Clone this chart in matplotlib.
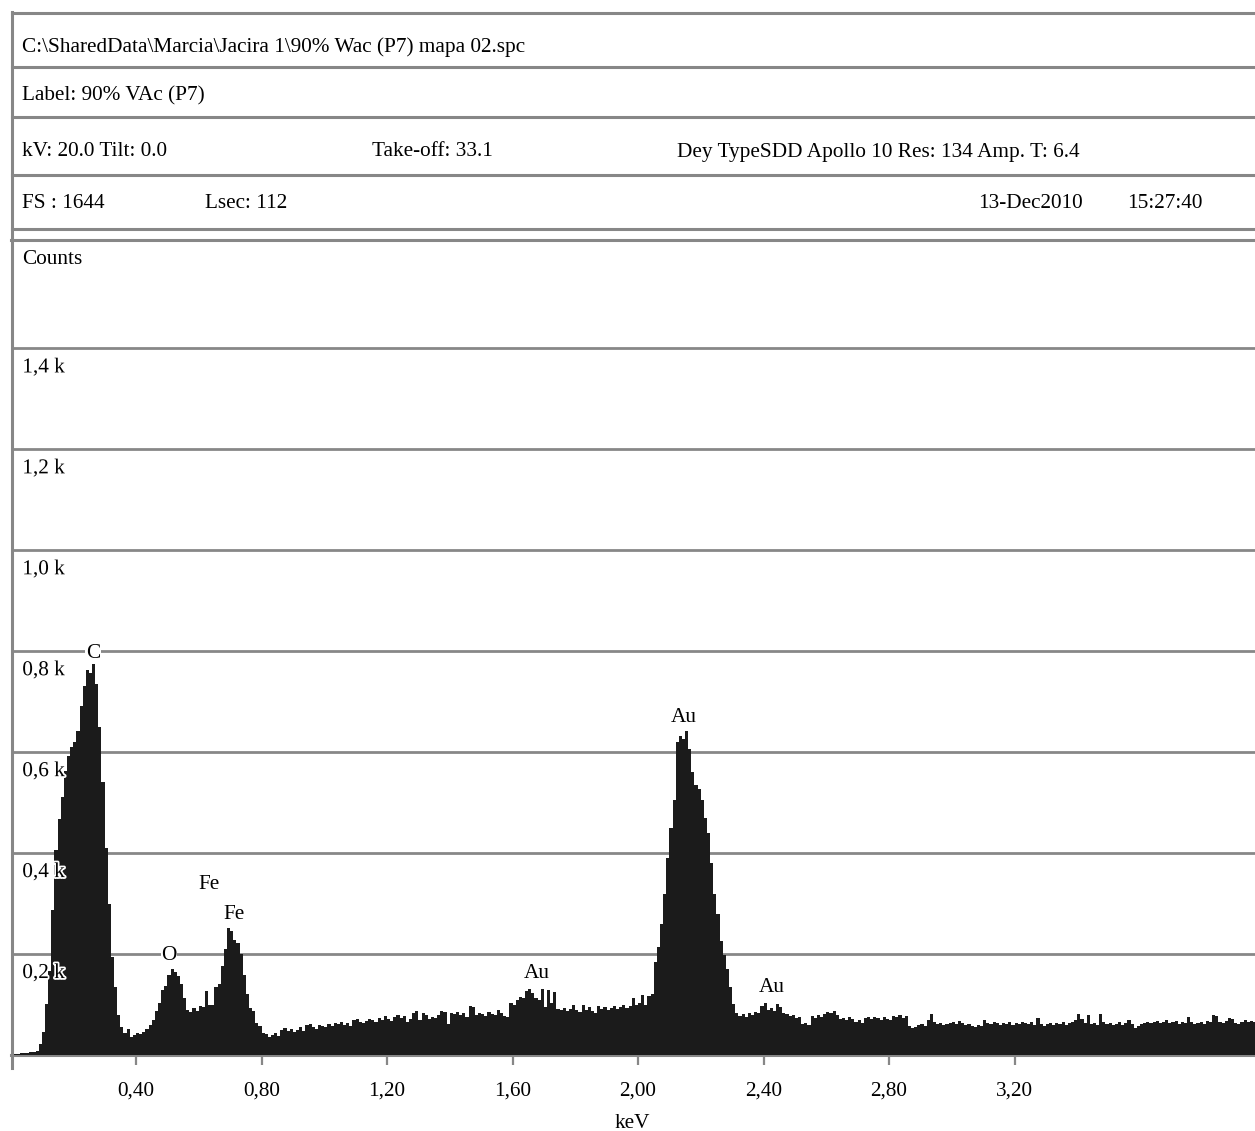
import matplotlib
matplotlib.use('Agg')
import matplotlib.pyplot as plt
import matplotlib.patheffects as pe
from matplotlib.lines import Line2D
import numpy as np

plt.rcParams['font.family'] = ['Liberation Serif', 'DejaVu Serif']

# EDS spectrum, 10 eV per channel starting at 0 keV
channel_kev = 0.01
counts = [
    487, 2, 2, 3, 4, 4, 5, 6, 8, 22,
    45, 101, 167, 287, 407, 467, 512, 562, 592, 610,
    620, 642, 692, 732, 762, 756, 775, 735, 650, 540,
    410, 300, 195, 135, 80, 56, 44, 52, 36, 40,
    44, 42, 46, 52, 60, 70, 88, 104, 128, 136,
    158, 170, 164, 156, 140, 112, 90, 86, 94, 88,
    98, 96, 126, 100, 100, 134, 140, 176, 210, 252,
    246, 228, 222, 200, 158, 120, 94, 88, 64, 58,
    44, 42, 36, 40, 44, 38, 50, 54, 48, 52,
    46, 50, 56, 48, 60, 62, 56, 52, 60, 58,
    56, 62, 58, 64, 62, 66, 60, 64, 58, 70,
    72, 66, 64, 68, 72, 70, 66, 74, 70, 78,
    72, 68, 76, 80, 74, 78, 66, 72, 84, 88,
    70, 84, 80, 72, 76, 74, 80, 88, 86, 62,
    84, 82, 86, 80, 84, 76, 98, 96, 80, 84,
    82, 78, 86, 82, 80, 90, 84, 78, 76, 104,
    100, 108, 114, 112, 126, 130, 122, 112, 108, 130,
    96, 128, 104, 124, 92, 90, 94, 88, 92, 100,
    90, 86, 100, 90, 96, 88, 84, 98, 92, 96,
    90, 94, 98, 92, 96, 100, 94, 98, 112, 100,
    104, 118, 100, 116, 120, 185, 214, 260, 320, 390,
    450, 505, 620, 632, 626, 642, 606, 560, 535, 528,
    506, 470, 440, 380, 320, 280, 226, 198, 170, 134,
    102, 84, 78, 82, 76, 84, 80, 86, 84, 98,
    104, 90, 94, 88, 102, 96, 84, 82, 78, 80,
    74, 76, 62, 64, 60, 78, 74, 80, 76, 82,
    86, 84, 88, 80, 72, 74, 70, 76, 72, 66,
    70, 64, 74, 76, 72, 76, 74, 70, 76, 72,
    70, 78, 76, 80, 74, 78, 58, 54, 56, 60,
    62, 58, 70, 82, 66, 62, 64, 60, 62, 64,
    66, 62, 68, 64, 60, 62, 58, 56, 60, 58,
    70, 64, 62, 66, 64, 60, 64, 62, 66, 60,
    64, 62, 66, 64, 62, 66, 60, 74, 62, 58,
    62, 64, 60, 64, 62, 66, 60, 64, 66, 70,
    82, 72, 64, 80, 62, 64, 60, 82, 66, 62,
    64, 60, 62, 66, 60, 64, 70, 62, 54, 58,
    62, 64, 66, 64, 66, 68, 64, 66, 70, 64,
    66, 68, 62, 66, 64, 76, 66, 62, 64, 66,
    62, 68, 66, 80, 78, 66, 64, 68, 74, 72,
    64, 62, 66, 70, 66, 68, 66,
]

grid_counts = [200, 400, 600, 800, 1000, 1200, 1400]
grid_labels = ['0,2 k', '0,4 k', '0,6 k', '0,8 k', '1,0 k', '1,2 k', '1,4 k']
kev_ticks = [0.4, 0.8, 1.2, 1.6, 2.0, 2.4, 2.8, 3.2]
kev_labels = ['0,40', '0,80', '1,20', '1,60', '2,00', '2,40', '2,80', '3,20']

# element markers: label, keV, counts
peak_names = ['C', 'O', 'Fe', 'Fe', 'Au', 'Au', 'Au']
peak_kev = [0.263, 0.505, 0.633, 0.712, 1.678, 2.147, 2.427]
peak_counts = [795, 197, 338, 279, 161, 668, 133]

header_lines = [
    [('C:\\SharedData\\Marcia\\Jacira 1\\90% Wac (P7) mapa 02.spc', 22)],
    [('Label: 90% VAc (P7)', 22)],
    [('kV: 20.0 Tilt: 0.0', 22), ('Take-off: 33.1', 372),
     ('Dey TypeSDD Apollo 10 Res: 134 Amp. T: 6.4', 677)],
    [('FS : 1644', 22), ('Lsec: 112', 205), ('13-Dec2010', 978), ('15:27:40', 1127)],
]
header_text_y = [47, 96, 152, 204]
header_rule_y = [13, 67, 117, 175, 229]

W, H = 1255, 1131
FS = 15.3
LINE = '#878787'


def fx(x):
    return x / W


def fy(y):
    return 1 - y / H


fig = plt.figure(figsize=(W / 100, H / 100), dpi=100)
ax = fig.add_axes([fx(10.5), fy(1055), 1 - fx(10.5), fy(240) - fy(1055)])

edges = np.arange(len(counts) + 1) * channel_kev
ax.stairs(counts, edges, fill=True, color='#1b1b1b', zorder=3)

for g in grid_counts:
    ax.axhline(g, color=LINE, lw=2.0, zorder=1)

ax.set_xlim(0, (W - 10.5) / 313.75)
ax.set_ylim(0, 1615)

for g, lab in zip(grid_counts, grid_labels):
    ax.annotate(lab, xy=(0, g), xycoords=('axes fraction', 'data'),
                xytext=(8.5, -14), textcoords='offset points',
                ha='left', va='center', fontsize=FS, zorder=6,
                path_effects=[pe.withStroke(linewidth=2.5, foreground='white')])

for name, e, c in zip(peak_names, peak_kev, peak_counts):
    ax.text(e, c, name, ha='center', va='center', fontsize=FS, zorder=6,
            bbox=dict(facecolor='white', edgecolor='none', pad=0.5))

ax.set_xticks(kev_ticks)
ax.set_xticklabels(kev_labels, fontsize=FS)
ax.set_yticks([])
ax.tick_params(axis='x', direction='out', length=7, width=1.6, color=LINE, pad=12)
ax.set_xlabel('keV', fontsize=FS, labelpad=10)
for side in ['left', 'top', 'right']:
    ax.spines[side].set_visible(False)
ax.spines['bottom'].set_color(LINE)
ax.spines['bottom'].set_linewidth(2.2)
ax.axhline(1615, color=LINE, lw=2.2, clip_on=False, zorder=1)

# header box
for y in header_rule_y:
    fig.add_artist(Line2D([fx(12), 1], [fy(y), fy(y)], color=LINE, lw=2.2))
fig.add_artist(Line2D([fx(12), fx(12)], [fy(12), fy(1068)], color=LINE, lw=2.2))

for row, y in zip(header_lines, header_text_y):
    for txt, x in row:
        fig.text(fx(x), fy(y), txt, ha='left', va='center', fontsize=FS)

fig.text(fx(22), fy(259), 'Counts', ha='left', va='center', fontsize=FS)

fig.savefig('out.png', dpi=100)
